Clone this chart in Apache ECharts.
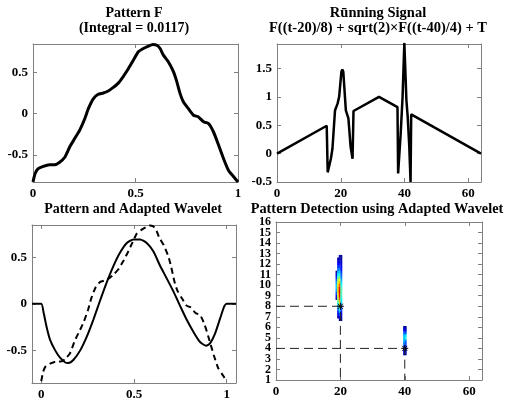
<!DOCTYPE html>
<html><head><meta charset="utf-8">
<script src="https://cdn.jsdelivr.net/npm/echarts@6/dist/echarts.min.js"></script>
<style>html,body{margin:0;padding:0;background:#fff}#c{width:505px;height:407px}</style>
</head><body><div id="c"></div>
<script>
// ---- Pattern F ----
const fX = [0,0.01,0.024,0.05,0.08,0.106,0.13,0.155,0.18,0.204,0.228,0.253,0.27,0.294,0.318,0.343,0.367,0.39,0.416,0.44,0.465,0.49,0.514,0.538,0.563,0.584,0.604,0.62,0.636,0.66,0.685,0.70,0.718,0.734,0.758,0.783,0.807,0.832,0.856,0.88,0.905,0.93,0.954,0.98,1];
const fY = [-0.83,-0.73,-0.67,-0.64,-0.62,-0.62,-0.59,-0.53,-0.40,-0.30,-0.20,-0.06,0.06,0.18,0.235,0.25,0.275,0.315,0.37,0.45,0.545,0.65,0.75,0.79,0.82,0.84,0.83,0.79,0.71,0.63,0.51,0.40,0.24,0.14,0.06,-0.02,-0.04,-0.10,-0.12,-0.22,-0.38,-0.55,-0.69,-0.77,-0.83];
// ---- Running signal ----
const sigT = [0,15.6,15.9,16.9,17.4,18.2,19.0,19.5,20.2,20.5,20.8,21.6,22.4,23.1,23.7,24.0,32,37.8,38.0,38.8,39.4,39.95,40.6,41.0,41.5,41.9,42.1,64];
const sigY = [0,0.49,-0.33,-0.09,0.09,0.76,0.88,1.0,1.44,1.48,1.44,0.76,0.62,0.12,-0.09,0.75,1.0,0.82,-0.35,0.35,1.0,1.95,0.94,0.65,0.12,-0.5,0.69,0];
// ---- Adapted wavelet ----
const wX = [-0.05,0,0.013,0.03,0.048,0.075,0.10,0.13,0.147,0.174,0.21,0.246,0.28,0.318,0.354,0.39,0.425,0.46,0.497,0.533,0.57,0.605,0.64,0.677,0.713,0.749,0.785,0.82,0.856,0.889,0.91,0.937,0.964,0.986,1.0,1.05];
const wY = [0,0,-0.10,-0.26,-0.39,-0.50,-0.575,-0.63,-0.635,-0.60,-0.50,-0.35,-0.175,0.04,0.235,0.41,0.55,0.65,0.69,0.69,0.65,0.56,0.41,0.27,0.13,-0.025,-0.175,-0.30,-0.41,-0.45,-0.425,-0.32,-0.16,-0.03,0,0];
// ---- Detection map (scale vs position) ----
const blob1X = [18.75,19.25,19.75,20.25];
const blob1Y = [6.75,7,7.25,7.5,7.75,8,8.25,8.5,8.75,9,9.25,9.5,9.75,10,10.25,10.5,10.75,11,11.25,11.5,11.75,12,12.25,12.5,12.75];
const blob1V = [
  [0,0,0,0,0,0,0,0,0.05,0.12,0.2,0.28,0.32,0.32,0.28,0.22,0.15,0.08,0.04,0,0,0,0,0,0],
  [0,0.03,0.08,0.15,0.22,0.3,0.38,0.46,0.54,0.6,0.65,0.68,0.68,0.65,0.6,0.53,0.45,0.37,0.3,0.23,0.17,0.12,0.08,0.04,0],
  [0.05,0.12,0.2,0.3,0.4,0.5,0.6,0.7,0.8,0.88,0.92,0.92,0.88,0.8,0.72,0.62,0.52,0.42,0.34,0.27,0.2,0.15,0.11,0.07,0.04],
  [0.02,0.06,0.1,0.15,0.2,0.25,0.3,0.35,0.4,0.43,0.45,0.45,0.43,0.4,0.35,0.3,0.26,0.22,0.18,0.14,0.11,0.08,0.06,0.03,0.02]
];
const blob2X = [39.75,40.25];
const blob2Y = [3.5,3.75,4,4.25,4.5,4.75,5,5.25,5.5,5.75,6];
const blob2V = [
  [0.05,0.1,0.15,0.2,0.25,0.3,0.32,0.3,0.22,0.12,0.05],
  [0.03,0.07,0.12,0.16,0.2,0.25,0.4,0.35,0.2,0.08,0.03]
];
const detectX = [20,40];
const detectS = [8,4];
const scaleTicks = [1,2,3,4,5,6,7,8,9,10,11,12,13,14,15,16];

const FONT = '"Liberation Serif","Times New Roman",serif';
const BOX = '#808080';

function pairs(xs, ys){ return xs.map((x,i)=>[x,ys[i]]); }
function cells(xs, ys, vs){ const out=[]; xs.forEach((x,i)=>ys.forEach((y,j)=>{ if(vs[i][j]>0) out.push([x,y,vs[i][j]]); })); return out; }

function axisObj(gi, dim, min, max, ticks, labelVals, pos, opts){
  opts = opts||{};
  return {
    type:'value', gridIndex:gi, min:min, max:max, position:pos,
    axisLine:{show:opts.line!==false,onZero:false,lineStyle:{color:BOX,width:1}},
    axisTick:{show:opts.tick!==false,inside:true,length:4,customValues:ticks,lineStyle:{color:BOX}},
    axisLabel: labelVals ? {show:true,customValues:labelVals,showMinLabel:true,showMaxLabel:true,hideOverlap:false,
      formatter:v=>String(v), fontFamily:FONT, fontWeight:'bold', fontSize:opts.fs||13, color:'#000', margin:5} : {show:false},
    splitLine:{show:false}
  };
}
function axes(gi, dim, min, max, ticks){
  return [axisObj(gi,dim,min,max,ticks,ticks,dim==='x'?'bottom':'left'),
          axisObj(gi,dim,min,max,ticks,null,dim==='x'?'top':'right')];
}

function jet(v){
  const st=[[0,[0,0,127]],[0.125,[0,0,255]],[0.375,[0,255,255]],[0.625,[255,255,0]],[0.875,[255,0,0]],[1,[127,0,0]]];
  v=Math.max(0,Math.min(1,v));
  for(let i=1;i<st.length;i++){ if(v<=st[i][0]){ const a=st[i-1],b=st[i]; const t=(v-a[0])/(b[0]-a[0]);
    const c=a[1].map((x,k)=>Math.round(x+(b[1][k]-x)*t)); return 'rgb('+c.join(',')+')'; } }
  return 'rgb(127,0,0)';
}

const chart = echarts.init(document.getElementById('c'), null, {renderer:'canvas'});
const grids = [
  {left:33, top:44, width:205, height:138},
  {left:277, top:44, width:204, height:138},
  {left:32, top:225, width:204, height:158},
  {left:276, top:222, width:206, height:158}
];
const xA = [].concat(
  axes(0,'x',0,1,[0,0.5,1]),
  axes(1,'x',0,64,[0,20,40,60]),
  axes(2,'x',-0.05,1.05,[0,0.5,1]),
  axes(3,'x',0,64,[0,20,40,60])
);
const oddS = scaleTicks.filter(v=>v%2===1), evenS = scaleTicks.filter(v=>v%2===0);
const yA = [].concat(
  axes(0,'y',-0.83,0.845,[-0.5,0,0.5]),
  axes(1,'y',-0.5,1.93,[-0.5,0,0.5,1,1.5]),
  axes(2,'y',-0.85,0.845,[-0.5,0,0.5]),
  [axisObj(3,'y',1,16,scaleTicks,oddS,'left',{fs:12}),
   axisObj(3,'y',1,16,scaleTicks,null,'right'),
   axisObj(3,'y',1,16,scaleTicks,evenS,'left',{fs:12,line:false,tick:false})]
);

function heatSeries(data, dx, dy){
  return {type:'custom', xAxisIndex:6, yAxisIndex:6, data:data, clip:true, silent:true,
    renderItem:(p,api)=>{ const x=api.value(0), y=api.value(1), v=api.value(2);
      const c=api.coord([x-dx/2, y+dy/2]); const s=api.size([dx,dy]);
      return {type:'rect', shape:{x:c[0], y:c[1], width:s[0]+0.3, height:s[1]+0.3}, style:{fill:jet(v)}}; }};
}

const T = (text,x,y,fs)=>({type:'text', x:x, y:y, style:{text:text, textAlign:'center', textVerticalAlign:'middle', font:'bold '+fs+'px '+FONT, fill:'#000'}});

chart.setOption({
  animation:false,
  backgroundColor:'#fff',
  grid:grids, xAxis:xA, yAxis:yA,
  graphic:[
    T('Pattern F',134,13,14), T('(Integral = 0.0117)',134,28,14),
    T('R\u016bnning Signal',378,13,14.5), T('F((t-20)/8) + sqrt(2)\u00d7F((t-40)/4) + T',378,28,14.5),
    T('Pattern and Adapted Wavelet',133,209,14), T('Pattern Detection using Adapted Wavelet',377,209,14.3)
  ],
  series:[
    {type:'line', xAxisIndex:0, yAxisIndex:0, data:pairs(fX,fY), showSymbol:false, smooth:0.2, lineStyle:{color:'#000',width:3}},
    {type:'line', xAxisIndex:2, yAxisIndex:2, data:pairs(sigT,sigY), showSymbol:false, clip:true, lineStyle:{color:'#000',width:2.5}},
    {type:'line', xAxisIndex:4, yAxisIndex:4, data:pairs(wX,wY), showSymbol:false, smooth:0.2, lineStyle:{color:'#000',width:2}},
    {type:'line', xAxisIndex:4, yAxisIndex:4, data:pairs(fX,fY), showSymbol:false, smooth:0.2, lineStyle:{color:'#000',width:2,type:[6,4]}},
    heatSeries(cells(blob1X,blob1Y,blob1V),0.5,0.25),
    heatSeries(cells(blob2X,blob2Y,blob2V),0.5,0.25),
    {type:'line', xAxisIndex:6, yAxisIndex:6, data:[[0,detectS[0]],[detectX[0],detectS[0]],[detectX[0],1]], showSymbol:false, lineStyle:{color:'#222',width:1,type:[9,5]}},
    {type:'line', xAxisIndex:6, yAxisIndex:6, data:[[0,detectS[1]],[detectX[1],detectS[1]],[detectX[1],1]], showSymbol:false, lineStyle:{color:'#222',width:1,type:[9,5]}},
    {type:'custom', xAxisIndex:6, yAxisIndex:6, data:pairs(detectX,detectS), silent:true,
      renderItem:(p,api)=>{ const c=api.coord([api.value(0),api.value(1)]); const r=3.5, d=2.5;
        const L=(x1,y1,x2,y2)=>({type:'line', shape:{x1:c[0]+x1,y1:c[1]+y1,x2:c[0]+x2,y2:c[1]+y2}, style:{stroke:'#000',lineWidth:1}});
        return {type:'group', children:[L(-r,0,r,0),L(0,-r,0,r),L(-d,-d,d,d),L(-d,d,d,-d)]}; }}
  ]
});
</script></body></html>
